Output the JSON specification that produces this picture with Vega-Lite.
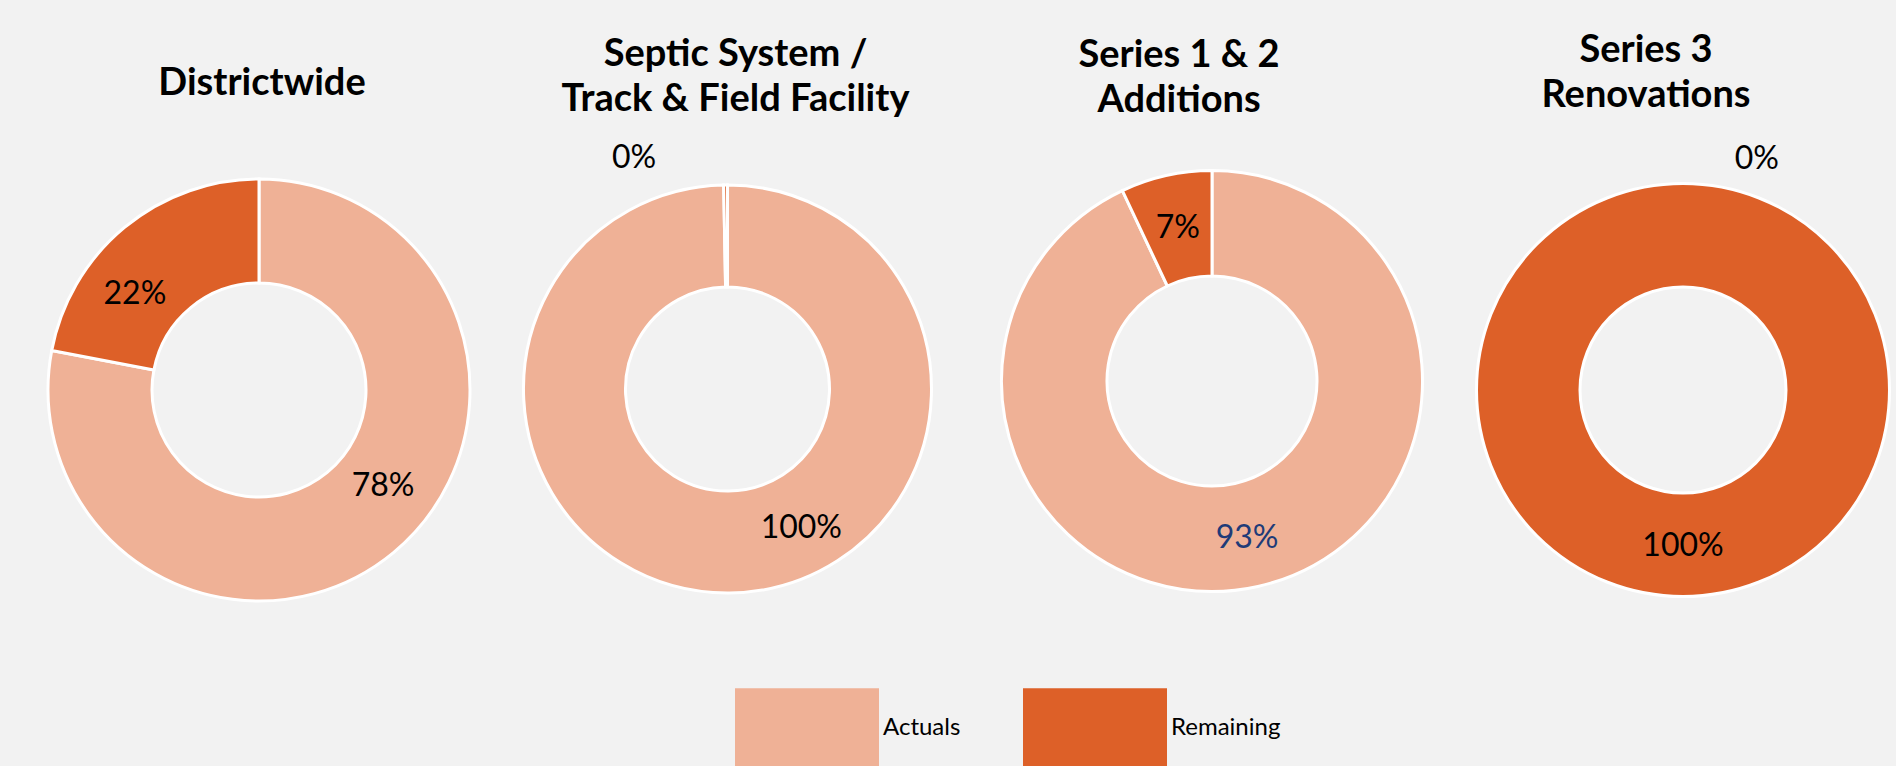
{
  "$schema": "https://vega.github.io/schema/vega-lite/v6.json",
  "background": "#f2f2f2",
  "padding": {"top": 32, "left": 0, "right": 0, "bottom": 0},
  "spacing": 0,
  "bounds": "flush",
  "datasets": {
    "d": [
      {"chart": "Districtwide", "category": "Actuals", "value": 0.78},
      {"chart": "Districtwide", "category": "Remaining", "value": 0.22},
      {"chart": "Septic", "category": "Actuals", "value": 0.997},
      {"chart": "Septic", "category": "Remaining", "value": 0.003},
      {"chart": "Series12", "category": "Actuals", "value": 0.93},
      {"chart": "Series12", "category": "Remaining", "value": 0.07},
      {"chart": "Series3", "category": "Actuals", "value": 0},
      {"chart": "Series3", "category": "Remaining", "value": 1}
    ]
  },
  "config": {
    "view": {"stroke": null},
    "font": "Lato",
    "title": {"font": "Lato", "fontSize": 38, "fontWeight": "bold", "color": "black", "lineHeight": 45, "anchor": "middle"}
  },
  "hconcat": [
    {
      "width": 518, "height": 510,
      "title": {"text": "Districtwide", "offset": 32, "dx": 3},
      "data": {"name": "d"},
      "transform": [{"filter": "datum.chart === 'Districtwide'"}],
      "encoding": {
        "theta": {"field": "value", "type": "quantitative", "stack": true},
        "order": {"field": "category", "type": "ordinal", "sort": "ascending"}
      },
      "layer": [
        {
          "mark": {"type": "arc", "innerRadius": 107, "outerRadius": 211, "stroke": "white", "strokeWidth": 3},
          "encoding": {
            "color": {
              "field": "category", "type": "nominal",
              "scale": {"domain": ["Actuals", "Remaining"], "range": ["#EFB196", "#DD6028"]},
              "legend": {
                "orient": "none", "legendX": 735, "legendY": 521, "direction": "horizontal", "title": null,
                "symbolType": "M-1,-0.556H1V1.2H-1Z", "symbolSize": 20736, "symbolStrokeWidth": 0, "symbolOpacity": 1,
                "labelFont": "Lato", "labelFontSize": 24, "labelColor": "black", "labelOffset": 4, "columnPadding": 62, "padding": 0
              }
            }
          }
        },
        {
          "mark": {"type": "text", "radius": 157, "thetaOffset": -0.22, "fontSize": 32, "font": "Lato", "color": "black"},
          "encoding": {"text": {"field": "value", "type": "quantitative", "format": ".0%"}}
        }
      ]
    },
    {
      "width": 419, "height": 508,
      "title": {"text": ["Septic System /", "Track & Field Facility"], "offset": 16, "dx": 8},
      "data": {"name": "d"},
      "transform": [{"filter": "datum.chart === 'Septic'"}],
      "encoding": {
        "theta": {"field": "value", "type": "quantitative", "stack": true},
        "order": {"field": "category", "type": "ordinal", "sort": "ascending"}
      },
      "layer": [
        {
          "mark": {"type": "arc", "innerRadius": 102, "outerRadius": 204, "stroke": "white", "strokeWidth": 3},
          "encoding": {"color": {"field": "category", "type": "nominal"}}
        },
        {
          "mark": {"type": "text", "radius": 157, "thetaOffset": -0.48, "fontSize": 32, "font": "Lato", "color": "black"},
          "encoding": {
            "text": {"field": "value", "type": "quantitative", "format": ".0%"},
            "opacity": {"condition": {"test": "datum.category === 'Actuals'", "value": 1}, "value": 0}
          }
        },
        {
          "mark": {"type": "text", "radius": 249, "thetaOffset": -0.375, "fontSize": 32, "font": "Lato", "color": "black"},
          "encoding": {
            "text": {"field": "value", "type": "quantitative", "format": ".0%"},
            "opacity": {"condition": {"test": "datum.category === 'Remaining'", "value": 1}, "value": 0}
          }
        }
      ]
    },
    {
      "width": 550, "height": 492,
      "title": {"text": ["Series 1 & 2", "Additions"], "offset": 15, "dx": -33},
      "data": {"name": "d"},
      "transform": [{"filter": "datum.chart === 'Series12'"}],
      "encoding": {
        "theta": {"field": "value", "type": "quantitative", "stack": true},
        "order": {"field": "category", "type": "ordinal", "sort": "ascending"}
      },
      "layer": [
        {
          "mark": {"type": "arc", "innerRadius": 105, "outerRadius": 210.5, "stroke": "white", "strokeWidth": 3},
          "encoding": {"color": {"field": "category", "type": "nominal"}}
        },
        {
          "mark": {"type": "text", "radius": 161, "fontSize": 32, "font": "Lato", "color": "#203B78"},
          "encoding": {
            "text": {"field": "value", "type": "quantitative", "format": ".0%"},
            "opacity": {"condition": {"test": "datum.category === 'Actuals'", "value": 1}, "value": 0}
          }
        },
        {
          "mark": {"type": "text", "radius": 157, "fontSize": 32, "font": "Lato", "color": "black"},
          "encoding": {
            "text": {"field": "value", "type": "quantitative", "format": ".0%"},
            "opacity": {"condition": {"test": "datum.category === 'Remaining'", "value": 1}, "value": 0}
          }
        }
      ]
    },
    {
      "width": 392, "height": 510,
      "title": {"text": ["Series 3", "Renovations"], "offset": 20, "dx": -37},
      "data": {"name": "d"},
      "transform": [{"filter": "datum.chart === 'Series3'"}],
      "encoding": {
        "theta": {"field": "value", "type": "quantitative", "stack": true},
        "order": {"field": "category", "type": "ordinal", "sort": "ascending"}
      },
      "layer": [
        {
          "mark": {"type": "arc", "innerRadius": 103, "outerRadius": 206.5, "stroke": "white", "strokeWidth": 3},
          "encoding": {"color": {"field": "category", "type": "nominal"}}
        },
        {
          "mark": {"type": "text", "radius": 243, "thetaOffset": 0.309, "fontSize": 32, "font": "Lato", "color": "black"},
          "encoding": {
            "text": {"field": "value", "type": "quantitative", "format": ".0%"},
            "opacity": {"condition": {"test": "datum.category === 'Actuals'", "value": 1}, "value": 0}
          }
        },
        {
          "mark": {"type": "text", "radius": 156, "fontSize": 32, "font": "Lato", "color": "black"},
          "encoding": {
            "text": {"field": "value", "type": "quantitative", "format": ".0%"},
            "opacity": {"condition": {"test": "datum.category === 'Remaining'", "value": 1}, "value": 0}
          }
        }
      ]
    }
  ]
}
